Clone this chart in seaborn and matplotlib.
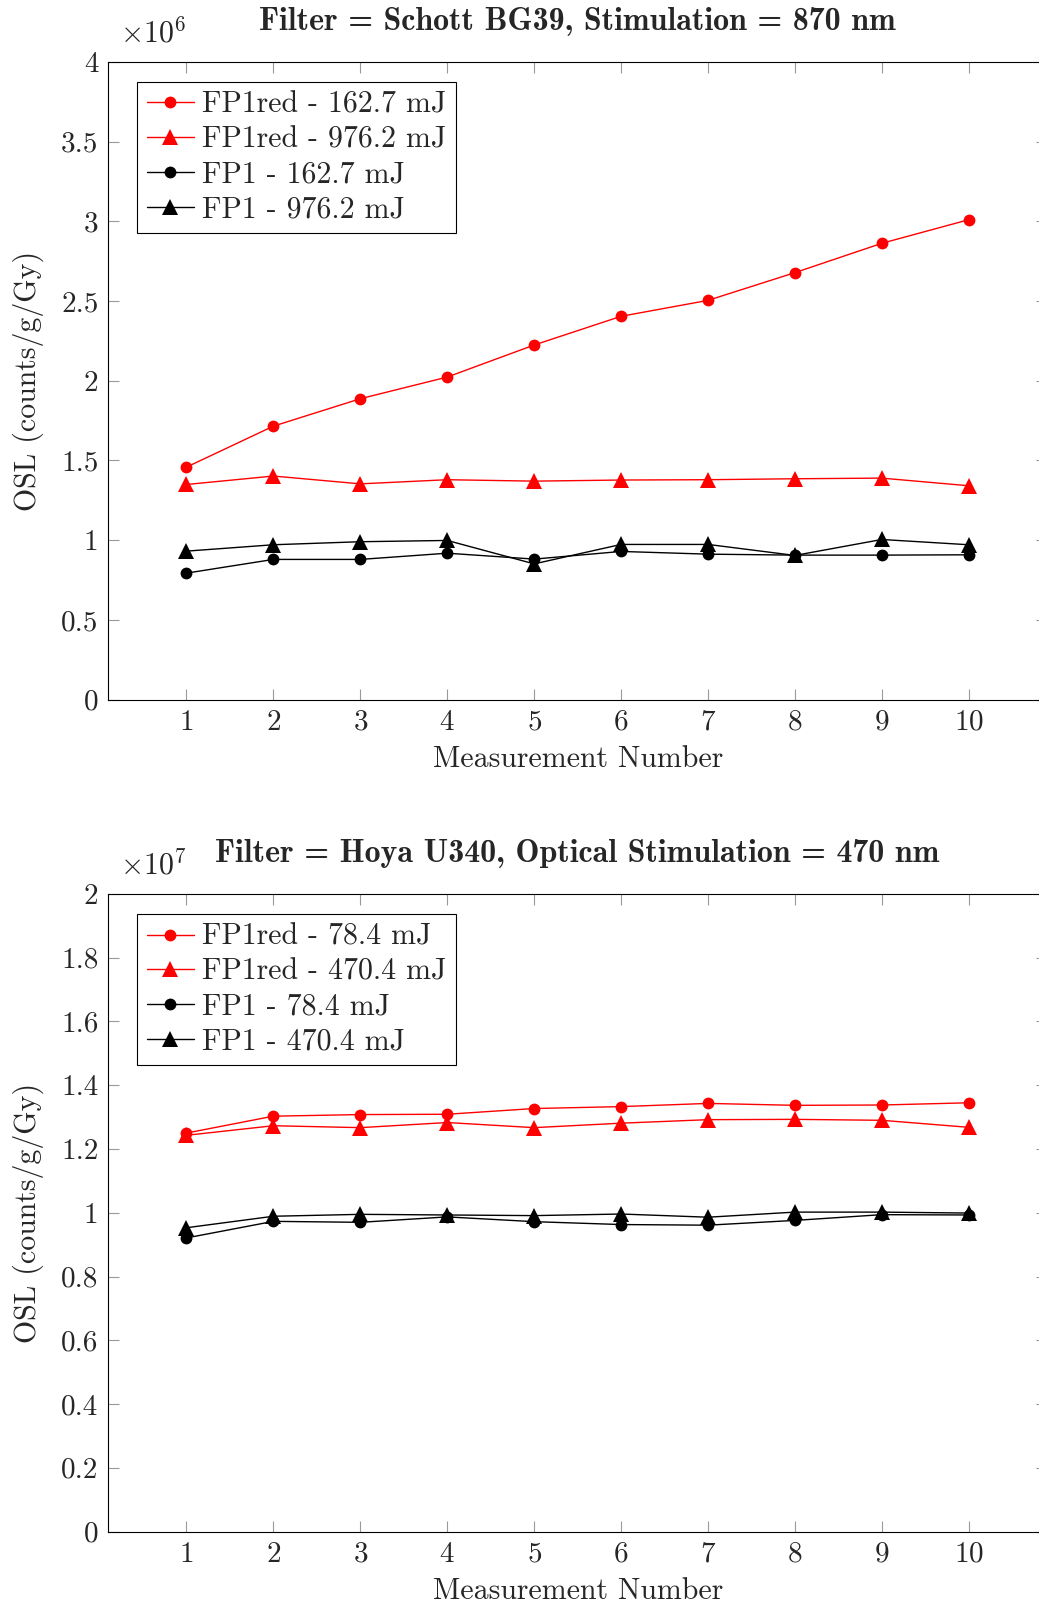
import matplotlib
matplotlib.use("Agg")
import matplotlib.pyplot as plt
import seaborn as sns
import pandas as pd
from matplotlib.ticker import FuncFormatter, MultipleLocator

# ---------------- data ----------------
measurement = list(range(1, 11))

# Top panel: Filter = Schott BG39, Stimulation = 870 nm
bg39_fp1red_162 = [1.458e6, 1.715e6, 1.887e6, 2.023e6, 2.224e6, 2.404e6, 2.504e6, 2.678e6, 2.862e6, 3.010e6]
bg39_fp1red_976 = [1.349e6, 1.402e6, 1.353e6, 1.379e6, 1.370e6, 1.377e6, 1.379e6, 1.385e6, 1.389e6, 1.341e6]
bg39_fp1_162 = [0.793e6, 0.879e6, 0.879e6, 0.918e6, 0.881e6, 0.929e6, 0.912e6, 0.906e6, 0.906e6, 0.908e6]
bg39_fp1_976 = [0.931e6, 0.971e6, 0.990e6, 0.998e6, 0.851e6, 0.973e6, 0.973e6, 0.904e6, 1.004e6, 0.971e6]

# Bottom panel: Filter = Hoya U340, Optical Stimulation = 470 nm
u340_fp1red_78 = [1.250e7, 1.303e7, 1.308e7, 1.309e7, 1.327e7, 1.333e7, 1.343e7, 1.337e7, 1.338e7, 1.345e7]
u340_fp1red_470 = [1.243e7, 1.273e7, 1.267e7, 1.283e7, 1.267e7, 1.281e7, 1.292e7, 1.293e7, 1.290e7, 1.268e7]
u340_fp1_78 = [0.921e7, 0.973e7, 0.970e7, 0.987e7, 0.972e7, 0.963e7, 0.961e7, 0.976e7, 0.994e7, 0.993e7]
u340_fp1_470 = [0.953e7, 0.989e7, 0.995e7, 0.993e7, 0.991e7, 0.996e7, 0.986e7, 1.002e7, 1.002e7, 0.999e7]

top_labels = ["FP1red - 162.7 mJ", "FP1red - 976.2 mJ", "FP1 - 162.7 mJ", "FP1 - 976.2 mJ"]
bottom_labels = ["FP1red - 78.4 mJ", "FP1red - 470.4 mJ", "FP1 - 78.4 mJ", "FP1 - 470.4 mJ"]
top_title = "Filter = Schott BG39, Stimulation = 870 nm"
bottom_title = "Filter = Hoya U340, Optical Stimulation = 470 nm"
xlabel = "Measurement Number"
ylabel = "OSL (counts/g/Gy)"

# ---------------- style ----------------
sns.set_style("ticks")
plt.rcParams.update({
    "font.family": ["cmr10"],
    "mathtext.fontset": "cm",
    "axes.formatter.use_mathtext": True,
    "font.size": 21.5,
    "axes.linewidth": 0.8,
    "axes.edgecolor": "black",
})

fig = plt.figure(figsize=(10.39, 16.03), dpi=100)
ax_top = fig.add_axes([0.1042, 0.5636, 0.9035, 0.3978])
ax_bot = fig.add_axes([0.1042, 0.0446, 0.9035, 0.3977])

colors = ["#ff0000", "#ff0000", "black", "black"]
markers = ["o", "^", "o", "^"]
msizes = [8.5, 11, 8.5, 11]


def draw(ax, series, labels, title, scale, ymax, ystep, exp):
    for vals, lab, c, m, ms in zip(series, labels, colors, markers, msizes):
        df = pd.DataFrame({"x": measurement, "y": vals})
        sns.lineplot(data=df, x="x", y="y", ax=ax, color=c, marker=m,
                     markersize=ms, markeredgewidth=0, linewidth=1.0,
                     label=lab)
    ax.set_xlim(0.1, 10.9)
    ax.set_ylim(0, ymax)
    ax.xaxis.set_major_locator(MultipleLocator(1))
    ax.yaxis.set_major_locator(MultipleLocator(ystep))
    ax.yaxis.set_major_formatter(FuncFormatter(lambda v, p: f"{v / scale:g}"))
    ax.tick_params(direction="in", length=8, width=0.8, color="#999999",
                   top=True, right=True, pad=7, labelsize=21)
    ax.set_xlabel(xlabel, fontsize=21.5, labelpad=7)
    ax.set_ylabel(ylabel, fontsize=21.5, labelpad=12)
    ax.set_title(title, fontsize=23, fontfamily="cmb10", pad=23)
    ax.text(0.012, 1.022, r"$\times10^{%d}$" % exp, transform=ax.transAxes,
            fontsize=21.5, ha="left", va="bottom")
    leg = ax.legend(loc="upper left", bbox_to_anchor=(0.0306, 0.9686),
                    borderaxespad=0, fancybox=False, framealpha=1,
                    edgecolor="black", fontsize=21.5, handlelength=1.6,
                    handletextpad=0.25, labelspacing=0.25, borderpad=0.32)
    leg.get_frame().set_linewidth(0.8)


draw(ax_top, [bg39_fp1red_162, bg39_fp1red_976, bg39_fp1_162, bg39_fp1_976],
     top_labels, top_title, 1e6, 4e6, 0.5e6, 6)
draw(ax_bot, [u340_fp1red_78, u340_fp1red_470, u340_fp1_78, u340_fp1_470],
     bottom_labels, bottom_title, 1e7, 2e7, 0.2e7, 7)

fig.savefig("out.png", dpi=100)
